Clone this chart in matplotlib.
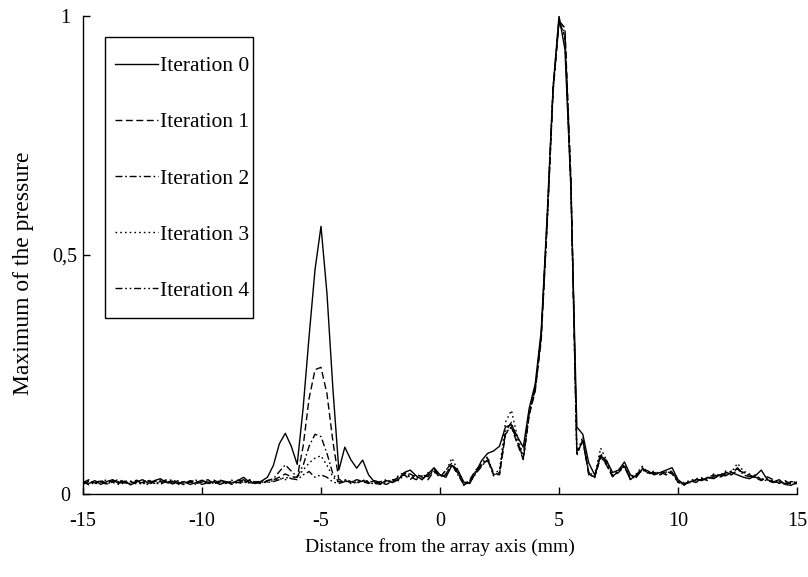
"""Maximum pressure profile across the array axis for successive iterations."""

import numpy as np
import matplotlib
matplotlib.use('Agg')
import matplotlib.pyplot as plt
from matplotlib.patches import Rectangle

# sampling grid of the profiles (mm), step 0.25 mm
x_mm = np.linspace(-15, 15, 121)

# rows of 8 values = 2 mm, first value of each row noted in comment
iter0 = [
    0.025, 0.022, 0.028, 0.020, 0.026, 0.030, 0.022, 0.027,  # -15
    0.019, 0.025, 0.030, 0.022, 0.028, 0.032, 0.024, 0.027,  # -13
    0.021, 0.026, 0.020, 0.024, 0.029, 0.022, 0.026, 0.020,  # -11
    0.025, 0.023, 0.028, 0.035, 0.024, 0.022, 0.027, 0.035,  # -9
    0.060, 0.105, 0.127, 0.100, 0.062, 0.180, 0.330, 0.470,  # -7
    0.560, 0.420, 0.220, 0.050, 0.098, 0.072, 0.054, 0.071,  # -5
    0.040, 0.025, 0.022, 0.028, 0.024, 0.030, 0.045, 0.050,  # -3
    0.038, 0.030, 0.042, 0.055, 0.040, 0.035, 0.060, 0.050,  # -1
    0.025, 0.022, 0.045, 0.070, 0.085, 0.090, 0.100, 0.140,  # 1
    0.145, 0.120, 0.098, 0.180, 0.230, 0.340, 0.580, 0.850,  # 3
    1.000, 0.930, 0.640, 0.140, 0.125, 0.065, 0.040, 0.080,  # 5
    0.070, 0.045, 0.050, 0.067, 0.040, 0.035, 0.052, 0.048,  # 7
    0.040, 0.045, 0.050, 0.055, 0.030, 0.020, 0.025, 0.030,  # 9
    0.028, 0.035, 0.032, 0.040, 0.038, 0.045, 0.040, 0.035,  # 11
    0.032, 0.038, 0.050, 0.030, 0.025, 0.030, 0.020, 0.018,  # 13
    0.025,
]

iter1 = [
    0.020, 0.027, 0.023, 0.029, 0.021, 0.025, 0.031, 0.023,
    0.026, 0.021, 0.024, 0.030, 0.022, 0.026, 0.029, 0.021,
    0.025, 0.019, 0.027, 0.022, 0.025, 0.030, 0.021, 0.026,
    0.022, 0.027, 0.024, 0.022, 0.029, 0.025, 0.021, 0.028,
    0.030, 0.035, 0.042, 0.036, 0.035, 0.100, 0.200, 0.260,
    0.265, 0.210, 0.110, 0.030, 0.028, 0.024, 0.030, 0.026,
    0.022, 0.028, 0.024, 0.020, 0.027, 0.035, 0.040, 0.030,
    0.042, 0.035, 0.030, 0.048, 0.035, 0.050, 0.065, 0.045,
    0.018, 0.030, 0.050, 0.062, 0.070, 0.045, 0.040, 0.125,
    0.140, 0.105, 0.072, 0.165, 0.215, 0.320, 0.560, 0.840,
    0.990, 0.975, 0.660, 0.090, 0.110, 0.045, 0.035, 0.078,
    0.060, 0.036, 0.045, 0.058, 0.030, 0.040, 0.055, 0.042,
    0.045, 0.040, 0.048, 0.042, 0.025, 0.018, 0.028, 0.024,
    0.032, 0.028, 0.036, 0.034, 0.042, 0.040, 0.050, 0.045,
    0.040, 0.034, 0.028, 0.036, 0.030, 0.022, 0.028, 0.020,
    0.022,
]

iter2 = [
    0.026, 0.019, 0.024, 0.027, 0.022, 0.028, 0.020, 0.025,
    0.023, 0.029, 0.021, 0.026, 0.024, 0.020, 0.027, 0.030,
    0.024, 0.021, 0.028, 0.026, 0.020, 0.024, 0.029, 0.023,
    0.027, 0.020, 0.025, 0.030, 0.022, 0.026, 0.024, 0.028,
    0.032, 0.047, 0.061, 0.048, 0.036, 0.060, 0.100, 0.125,
    0.120, 0.085, 0.042, 0.025, 0.030, 0.026, 0.022, 0.028,
    0.025, 0.020, 0.026, 0.030, 0.024, 0.032, 0.044, 0.036,
    0.030, 0.040, 0.036, 0.052, 0.038, 0.042, 0.062, 0.040,
    0.020, 0.026, 0.045, 0.060, 0.075, 0.040, 0.045, 0.130,
    0.150, 0.110, 0.075, 0.170, 0.220, 0.330, 0.570, 0.845,
    0.985, 0.960, 0.650, 0.080, 0.115, 0.040, 0.036, 0.085,
    0.065, 0.038, 0.048, 0.060, 0.032, 0.038, 0.050, 0.045,
    0.042, 0.046, 0.040, 0.045, 0.028, 0.022, 0.024, 0.030,
    0.030, 0.034, 0.040, 0.036, 0.045, 0.042, 0.055, 0.040,
    0.036, 0.040, 0.030, 0.032, 0.026, 0.025, 0.022, 0.024,
    0.026,
]

iter3 = [
    0.022, 0.028, 0.021, 0.025, 0.030, 0.023, 0.026, 0.020,
    0.027, 0.024, 0.020, 0.028, 0.025, 0.022, 0.030, 0.024,
    0.020, 0.026, 0.023, 0.029, 0.024, 0.021, 0.025, 0.027,
    0.023, 0.029, 0.022, 0.026, 0.030, 0.024, 0.028, 0.025,
    0.028, 0.032, 0.030, 0.034, 0.035, 0.050, 0.065, 0.075,
    0.080, 0.060, 0.036, 0.024, 0.028, 0.022, 0.026, 0.030,
    0.024, 0.027, 0.022, 0.028, 0.026, 0.038, 0.046, 0.034,
    0.036, 0.030, 0.045, 0.050, 0.040, 0.048, 0.075, 0.050,
    0.022, 0.028, 0.048, 0.065, 0.078, 0.042, 0.050, 0.150,
    0.175, 0.120, 0.080, 0.175, 0.225, 0.330, 0.570, 0.850,
    0.995, 0.950, 0.640, 0.085, 0.120, 0.045, 0.038, 0.096,
    0.070, 0.040, 0.050, 0.062, 0.034, 0.042, 0.058, 0.044,
    0.048, 0.042, 0.046, 0.048, 0.026, 0.024, 0.028, 0.032,
    0.034, 0.030, 0.042, 0.038, 0.048, 0.046, 0.064, 0.048,
    0.042, 0.036, 0.032, 0.030, 0.028, 0.024, 0.026, 0.022,
    0.024,
]

iter4 = [
    0.024, 0.030, 0.022, 0.026, 0.020, 0.027, 0.024, 0.029,
    0.021, 0.027, 0.025, 0.019, 0.026, 0.029, 0.022, 0.025,
    0.028, 0.023, 0.025, 0.020, 0.027, 0.025, 0.022, 0.029,
    0.026, 0.021, 0.029, 0.024, 0.027, 0.023, 0.025, 0.024,
    0.026, 0.030, 0.035, 0.032, 0.030, 0.040, 0.047, 0.035,
    0.040, 0.035, 0.025, 0.022, 0.026, 0.028, 0.024, 0.027,
    0.028, 0.023, 0.020, 0.025, 0.030, 0.028, 0.040, 0.042,
    0.034, 0.038, 0.040, 0.046, 0.036, 0.040, 0.058, 0.044,
    0.020, 0.024, 0.042, 0.058, 0.072, 0.038, 0.042, 0.128,
    0.140, 0.112, 0.075, 0.168, 0.220, 0.325, 0.565, 0.845,
    0.990, 0.965, 0.655, 0.085, 0.112, 0.042, 0.034, 0.080,
    0.062, 0.037, 0.047, 0.057, 0.030, 0.038, 0.052, 0.043,
    0.044, 0.041, 0.044, 0.046, 0.024, 0.020, 0.026, 0.028,
    0.030, 0.032, 0.038, 0.040, 0.044, 0.048, 0.052, 0.046,
    0.038, 0.035, 0.030, 0.028, 0.024, 0.026, 0.020, 0.026,
    0.024,
]

series = [iter0, iter1, iter2, iter3, iter4]
labels = ['Iteration 0', 'Iteration 1', 'Iteration 2', 'Iteration 3', 'Iteration 4']
styles = ['-', (0, (5, 2.5)), (0, (5, 2, 1.2, 2)), (0, (1.2, 2.2)),
          (0, (5, 2, 1.2, 2, 1.2, 2))]

x_ticks = [-15, -10, -5, 0, 5, 10, 15]
y_ticks = [0, 0.5, 1]
y_ticklabels = ['0', '0,5', '1']

plt.rcParams['font.family'] = ['Liberation Serif', 'DejaVu Serif']

W, H = 808, 577
fig = plt.figure(figsize=(W / 100, H / 100), dpi=100)
ax = fig.add_axes([83 / W, 1 - 494 / H, (797 - 83) / W, (494 - 16) / H])

for y, lab, ls in zip(series, labels, styles):
    ax.plot(x_mm, y, color='black', linestyle=ls, linewidth=1.0, label=lab)

ax.set_xlim(-15, 15)
ax.set_ylim(0, 1)
ax.set_xticks(x_ticks)
ax.set_xticklabels([str(t) for t in x_ticks])
ax.set_yticks(y_ticks)
ax.set_yticklabels(y_ticklabels, ha='center')

for side in ('top', 'right'):
    ax.spines[side].set_visible(False)
ax.spines['left'].set_linewidth(1.0)
ax.spines['bottom'].set_linewidth(1.0)
ax.tick_params(direction='in', length=5, width=1, labelsize=14.5)
ax.tick_params(axis='x', pad=13)
ax.tick_params(axis='y', pad=13)

ax.set_xlabel('Distance from the array axis (mm)', fontsize=14, labelpad=5)
ax.set_ylabel('Maximum of the pressure', fontsize=17)
ax.yaxis.set_label_coords((34 - 83) / 714, (494 - 273) / 478)

# legend box drawn separately so its margins match the original
leg = ax.legend(loc='upper left', bbox_to_anchor=(115 / W, 1 - 56 / H),
                bbox_transform=fig.transFigure, frameon=False,
                handlelength=2.0, handletextpad=0.1, labelspacing=1.68,
                borderpad=0, borderaxespad=0, fontsize=15.5)
fig.patches.append(Rectangle((105 / W, 1 - 318 / H), 148 / W, 281 / H,
                             transform=fig.transFigure, fill=False,
                             edgecolor='black', linewidth=1.0))

fig.savefig('out.png', dpi=100)
